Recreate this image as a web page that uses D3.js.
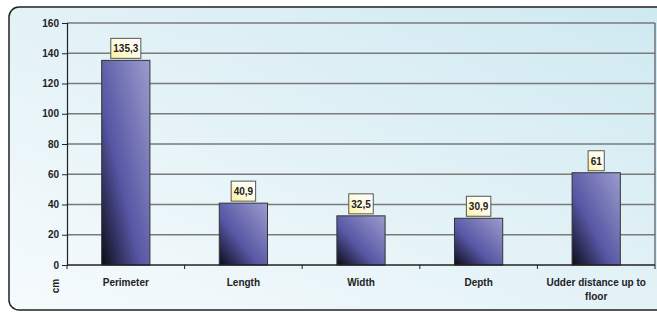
<!DOCTYPE html>
<html>
<head>
<meta charset="utf-8">
<script src="https://cdn.jsdelivr.net/npm/d3@7"></script>
<style>
  body { margin: 0; background: #fff; }
  text { font-family: "Liberation Sans", Arial, sans-serif; font-weight: bold; fill: #222; }
</style>
</head>
<body>
<div id="chart"></div>
<script>
// chart data
const categories = ["Perimeter", "Length", "Width", "Depth", "Udder distance up to floor"];
const values = [135.3, 40.9, 32.5, 30.9, 61];
const valueLabels = ["135,3", "40,9", "32,5", "30,9", "61"];
const yTicks = [0, 20, 40, 60, 80, 100, 120, 140, 160];

const width = 657, height = 313;
const plot = {left: 67, right: 655, top: 23, bottom: 265};

let svg = d3.select("#chart")
    .append("svg")
    .attr("width", width)
    .attr("height", height);

let defs = svg.append("defs");

// background gradient
let bg = defs.append("linearGradient").attr("id", "bgGrad")
    .attr("x1", 0).attr("y1", 1).attr("x2", 1).attr("y2", 0);
bg.append("stop").attr("offset", "0%").attr("stop-color", "#f6fbfd");
bg.append("stop").attr("offset", "100%").attr("stop-color", "#cfe9f1");

// bar gradient
let barGrad = defs.append("linearGradient").attr("id", "barGrad")
    .attr("x1", 0).attr("y1", 1).attr("x2", 1).attr("y2", 0);
barGrad.append("stop").attr("offset", "0%").attr("stop-color", "#0c0c18");
barGrad.append("stop").attr("offset", "40%").attr("stop-color", "#5656a4");
barGrad.append("stop").attr("offset", "100%").attr("stop-color", "#9c9cce");

// label box gradient
let labGrad = defs.append("linearGradient").attr("id", "labGrad")
    .attr("x1", 0).attr("y1", 1).attr("x2", 1).attr("y2", 0);
labGrad.append("stop").attr("offset", "0%").attr("stop-color", "#fbef9a");
labGrad.append("stop").attr("offset", "45%").attr("stop-color", "#fffbe0");
labGrad.append("stop").attr("offset", "100%").attr("stop-color", "#ffffff");

// outer frame
svg.append("rect")
    .attr("x", 9).attr("y", 7)
    .attr("width", 660).attr("height", 303)
    .attr("rx", 10).attr("ry", 10)
    .attr("fill", "url(#bgGrad)")
    .attr("stroke", "#222")
    .attr("stroke-width", 1.5);

let x = d3.scaleBand()
    .domain(categories)
    .range([plot.left, plot.right])
    .paddingInner(0.59)
    .paddingOuter(0.295);

let xOuter = d3.scaleBand()
    .domain(categories)
    .range([plot.left, plot.right]);

let y = d3.scaleLinear()
    .domain([0, 160])
    .range([plot.bottom, plot.top]);

// gridlines
svg.append("g")
    .selectAll("line")
    .data(yTicks.filter(d => d > 0))
    .enter()
    .append("line")
    .attr("x1", plot.left).attr("x2", plot.right)
    .attr("y1", d => y(d)).attr("y2", d => y(d))
    .attr("stroke", "#7a7a7a")
    .attr("stroke-width", 1.5);

// plot border right side
svg.append("line")
    .attr("x1", plot.right).attr("x2", plot.right)
    .attr("y1", plot.top).attr("y2", plot.bottom)
    .attr("stroke", "#555").attr("stroke-width", 1.2);

// y axis
let yAxis = svg.append("g")
    .attr("transform", `translate(${plot.left},0)`)
    .call(d3.axisLeft(y).tickValues(yTicks).tickSize(5).tickPadding(3).tickFormat(d3.format("d")));
yAxis.select(".domain").attr("stroke", "#222").attr("stroke-width", 1.2);
yAxis.selectAll(".tick line").attr("stroke", "#222");
yAxis.selectAll(".tick text").style("font-size", "10px").attr("fill", "#222");

// bars
svg.append("g")
    .selectAll("rect")
    .data(values)
    .enter()
    .append("rect")
    .attr("x", (d, i) => x(categories[i]))
    .attr("y", d => y(d))
    .attr("width", x.bandwidth())
    .attr("height", d => y(0) - y(d))
    .attr("fill", "url(#barGrad)")
    .attr("stroke", "#333")
    .attr("stroke-width", 1);

// x axis
let xAxis = svg.append("g")
    .attr("transform", `translate(0,${plot.bottom})`);
xAxis.append("line")
    .attr("x1", plot.left).attr("x2", plot.right)
    .attr("stroke", "#222").attr("stroke-width", 1.5);
xAxis.selectAll(".xtick")
    .data(categories.concat(["end"]).map((c, i) => i))
    .enter()
    .append("line")
    .attr("x1", i => plot.left + i * xOuter.step())
    .attr("x2", i => plot.left + i * xOuter.step())
    .attr("y1", 0).attr("y2", 4)
    .attr("stroke", "#222");

// category labels (wrap long one)
let xLabels = svg.append("g");
categories.forEach(function(c, i) {
    let cx = x(c) + x.bandwidth() / 2;
    let lines = c === "Udder distance up to floor" ? ["Udder distance up to", "floor"] : [c];
    let t = xLabels.append("text")
        .attr("text-anchor", "middle")
        .style("font-size", "10px");
    lines.forEach(function(l, j) {
        t.append("tspan").attr("x", cx).attr("y", 286 + j * 14).text(l);
    });
});

// value label boxes
let labels = svg.append("g");
values.forEach(function(v, i) {
    let cx = x(categories[i]) + x.bandwidth() / 2;
    let top = y(v) - 22;
    let box = labels.append("rect")
        .attr("y", top)
        .attr("height", 20)
        .attr("fill", "url(#labGrad)")
        .attr("stroke", "#555").attr("stroke-width", 1);
    let t = labels.append("text")
        .attr("x", cx).attr("y", top + 14)
        .attr("text-anchor", "middle")
        .style("font-size", "10px")
        .text(valueLabels[i]);
    let w = t.node().getComputedTextLength() + 5;
    box.attr("x", cx - w / 2).attr("width", w);
});

// y unit
svg.append("text")
    .attr("transform", "translate(59,286) rotate(-90)")
    .attr("text-anchor", "middle")
    .style("font-size", "10px")
    .text("cm");
</script>
</body>
</html>
